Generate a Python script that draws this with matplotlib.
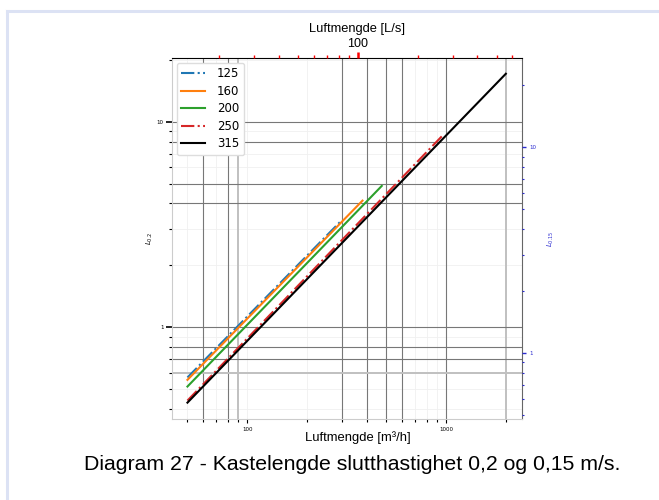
import numpy as np
import matplotlib.pyplot as plt
from matplotlib.lines import Line2D
from matplotlib.ticker import LogLocator, NullFormatter, FixedLocator, FixedFormatter

# Kastelengde L0.2 vs luftmengde (m3/h), endpoints of each dimension
flow_125 = [50, 300]
throw_125 = [0.57, 3.33]
flow_160 = [50, 380]
throw_160 = [0.555, 4.13]
flow_200 = [50, 475]
throw_200 = [0.515, 4.87]
flow_250 = [50, 965]
throw_250 = [0.44, 8.6]
flow_315 = [50, 2000]
throw_315 = [0.43, 17.1]

series = [
    ("125", flow_125, throw_125, "tab:blue", "-."),
    ("160", flow_160, throw_160, "tab:orange", "-"),
    ("200", flow_200, throw_200, "tab:green", "-"),
    ("250", flow_250, throw_250, "tab:red", "-."),
    ("315", flow_315, throw_315, "black", "-"),
]

# reference lines in the diagram
vlines_dark = [60, 80, 300, 400, 500, 600, 1000]
vlines_light = [90, 2000]
hlines_dark = [10, 8, 5, 4, 1, 0.8, 0.7]
hlines_light = [0.6]

ls_minor = [20, 30, 40, 50, 60, 70, 80, 90, 200, 300, 400, 500, 600]

M3H_PER_LS = 3.6
L015_PER_L02 = 0.2 / 0.15

fig = plt.figure(figsize=(6.59, 5.0), dpi=100)
ax = fig.add_axes([0.261, 0.162, 0.531, 0.722])
ax.set_xscale("log")
ax.set_yscale("log")
ax.set_xlim(41.8, 2410)
ax.set_ylim(0.358, 20.4)

ax.grid(True, which="both", color="#f0f0f0", linewidth=0.6, zorder=0.5)
for v in vlines_dark:
    ax.axvline(v, color="#777777", linewidth=0.8, zorder=2)
for v in vlines_light:
    ax.axvline(v, color="#c0c0c0", linewidth=1.4, zorder=2)
for h in hlines_dark:
    ax.axhline(h, color="#777777", linewidth=0.8, zorder=2)
for h in hlines_light:
    ax.axhline(h, color="#c0c0c0", linewidth=1.4, zorder=2)

for label, q, L, color, ls in series:
    ax.plot(q, L, color=color, linestyle=ls, linewidth=1.5, label=label, zorder=3)

leg = ax.legend(loc="upper left", fontsize=8.5, framealpha=1, edgecolor="#dddddd",
                labelspacing=0.38, handlelength=2.0, handletextpad=1.0,
                borderaxespad=0.4)
leg.set_zorder(5)

# bottom axis
ax.xaxis.set_major_locator(FixedLocator([100, 1000]))
ax.xaxis.set_major_formatter(FixedFormatter(["100", "1000"]))
ax.xaxis.set_minor_locator(LogLocator(base=10, subs=np.arange(2, 10)))
ax.xaxis.set_minor_formatter(NullFormatter())
ax.tick_params(axis="x", which="major", labelsize=4, length=3, width=0.8, pad=3)
ax.tick_params(axis="x", which="minor", length=2, width=0.8)
ax.set_xlabel("Luftmengde [m³/h]", fontsize=9.4, family="Liberation Sans")
ax.xaxis.set_label_coords(0.53, -0.033)

# left axis
ax.yaxis.set_major_locator(FixedLocator([1, 10]))
ax.yaxis.set_major_formatter(FixedFormatter(["1", "10"]))
ax.yaxis.set_minor_locator(LogLocator(base=10, subs=np.arange(2, 10)))
ax.yaxis.set_minor_formatter(NullFormatter())
ax.tick_params(axis="y", which="major", labelsize=4, length=4, width=1.2, pad=2)
ax.tick_params(axis="y", which="minor", length=2, width=0.8)
ax.set_ylabel("$L_{0.2}$", fontsize=5)
ax.yaxis.set_label_coords(-0.05, 0.5)

ax.spines["left"].set_color("#cccccc")
ax.spines["bottom"].set_color("#cccccc")
ax.spines["top"].set_color("black")
ax.spines["right"].set_color("#666666")

# top axis in L/s
top = ax.twiny()
top.set_xscale("log")
top.set_xlim(41.8 / M3H_PER_LS, 2410 / M3H_PER_LS)
top.xaxis.set_major_locator(FixedLocator([100]))
top.xaxis.set_major_formatter(FixedFormatter(["100"]))
top.xaxis.set_minor_locator(FixedLocator(ls_minor))
top.xaxis.set_minor_formatter(NullFormatter())
top.tick_params(axis="x", which="major", colors="red", labelcolor="black",
                labelsize=9, length=4, width=1.8, pad=1.5)
top.tick_params(axis="x", which="minor", colors="red", length=2.5, width=1.0)
for t in top.get_xticklabels():
    t.set_family("Liberation Sans")
top.set_xlabel("Luftmengde [L/s]", fontsize=9.3, family="Liberation Sans")
top.xaxis.set_label_coords(0.53, 1.072)
for s in top.spines.values():
    s.set_visible(False)

# right axis, L0.15
right = ax.twinx()
right.set_yscale("log")
right.set_ylim(0.358 * L015_PER_L02, 20.4 * L015_PER_L02)
right.yaxis.set_major_locator(FixedLocator([1, 10]))
right.yaxis.set_major_formatter(FixedFormatter(["1", "10"]))
right.yaxis.set_minor_locator(LogLocator(base=10, subs=np.arange(2, 10)))
right.yaxis.set_minor_formatter(NullFormatter())
right.tick_params(axis="y", which="major", colors="#2a2ad0", labelsize=4, length=3, width=1.0, pad=2)
right.tick_params(axis="y", which="minor", colors="#2a2ad0", length=1.5, width=0.8)
right.set_ylabel("$L_{0.15}$", fontsize=5, color="#2a2ad0")
right.yaxis.set_label_coords(1.068, 0.5)
for s in right.spines.values():
    s.set_visible(False)

fig.text(0.534, 0.07, "Diagram 27 - Kastelengde slutthastighet 0,2 og 0,15 m/s.",
         ha="center", va="center", fontsize=15.3, family="Liberation Sans")

# page frame
frame_color = "#dce2f4"
fig.add_artist(Line2D([0.011, 1.0], [0.978, 0.978], color=frame_color, linewidth=2.2))
fig.add_artist(Line2D([0.011, 0.011], [0.0, 0.978], color=frame_color, linewidth=2.2))

fig.savefig("out.png", dpi=100)
